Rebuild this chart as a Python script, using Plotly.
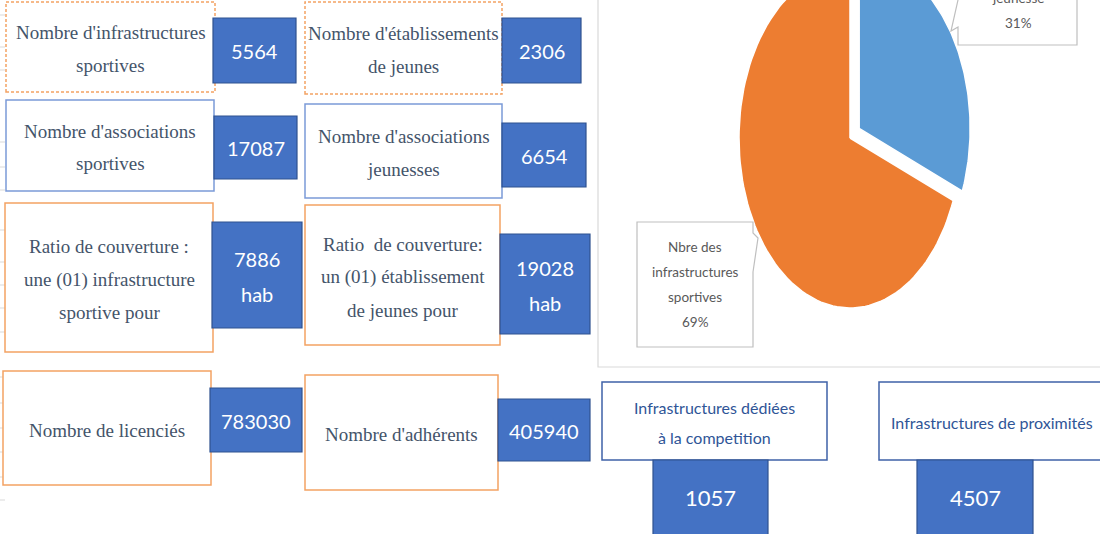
import numpy as np
import plotly.graph_objects as go

W, H = 1100, 534

# ---------------- data ----------------
stat_labels = [
    "Nombre d'infrastructures<br>sportives",
    "Nombre d'associations<br>sportives",
    "Ratio de couverture :<br>une (01) infrastructure<br>sportive pour",
    "Nombre de licenciés",
    "Nombre d'établissements<br>de jeunes",
    "Nombre d'associations<br>jeunesses",
    "Ratio  de couverture:<br>un (01) établissement<br>de jeunes pour",
    "Nombre d'adhérents",
]
stat_values = [5564, 17087, 7886, 783030, 2306, 6654, 19028, 405940]
stat_units = ["", "", "hab", "", "", "", "hab", ""]

pie_labels = ["Nbre des établissements de jeunesse", "Nbre des infrastructures sportives"]
pie_shares = [31, 69]

infra_labels = ["Infrastructures dédiées<br>à la competition", "Infrastructures de proximités"]
infra_values = [1057, 4507]

# ---------------- layout (pixel positions / styles) ----------------
ORANGE_B = "#F3A263"
BLUE_B = "#7B9AD8"
label_boxes = [
    (6, 2, 215, 92, ORANGE_B, "3px,2px"),
    (6, 100, 214, 191, BLUE_B, "solid"),
    (5, 203, 213, 352, ORANGE_B, "solid"),
    (3, 371, 211, 485, ORANGE_B, "solid"),
    (305, 2, 502, 94, ORANGE_B, "3px,2px"),
    (305, 104, 502, 198, BLUE_B, "solid"),
    (305, 205, 500, 345, ORANGE_B, "solid"),
    (305, 375, 498, 490, ORANGE_B, "solid"),
]
value_boxes = [
    (213, 18, 296, 83), (214, 116, 297, 179), (212, 222, 302, 328), (210, 388, 302, 452),
    (502, 18, 581, 83), (502, 123, 586, 187), (500, 234, 590, 334), (498, 399, 590, 461),
]
infra_label_boxes = [(602, 382, 827, 460), (879, 382, 1110, 460)]
infra_value_boxes = [(653, 460, 768, 540), (917, 460, 1033, 540)]

LBL_COLOR = "#44546A"
VAL_FILL = "#4472C4"
VAL_LINE = "#2F528F"
SERIF = "Liberation Serif, Times New Roman, serif"
SANS = "Lato, Liberation Sans, sans-serif"


def fx(x):
    return x / W


def fy(y):
    return 1 - y / H


shapes = []
annotations = []


def rect(x0, y0, x1, y1, line_color, width=1.2, dash="solid", fill="rgba(0,0,0,0)"):
    shapes.append(dict(type="rect", xref="paper", yref="paper",
                       x0=fx(x0), x1=fx(x1), y0=fy(y1), y1=fy(y0),
                       line=dict(color=line_color, width=width, dash=dash),
                       fillcolor=fill, layer="above"))


def text(x, y, s, size, color, family, yanchor="middle"):
    annotations.append(dict(xref="paper", yref="paper", x=fx(x), y=fy(y), text=s,
                            showarrow=False, xanchor="center", yanchor=yanchor,
                            font=dict(size=size, color=color, family=family)))


def multiline(cx, cy, s, spacing, size, color, family):
    lines = s.split("<br>")
    n = len(lines)
    for i, ln in enumerate(lines):
        text(cx, cy + (i - (n - 1) / 2) * spacing, ln, size, color, family)


# faint spreadsheet gridline stubs at left edge
for gy in [15, 47, 70, 142, 167, 190, 230, 262, 285, 308, 332, 377, 403, 428, 452, 477, 500]:
    shapes.append(dict(type="line", xref="paper", yref="paper", x0=fx(0), x1=fx(5),
                       y0=fy(gy), y1=fy(gy), line=dict(color="#D9D9D9", width=1)))

# pie panel frame
shapes.append(dict(type="path", xref="paper", yref="paper",
                   path=f"M {fx(598)},{fy(-5)} L {fx(598)},{fy(367)} L {fx(1105)},{fy(367)}",
                   line=dict(color="#D9D9D9", width=1.2)))

# stat label boxes + text
for (x0, y0, x1, y1, col, dash), lab in zip(label_boxes, stat_labels):
    rect(x0, y0, x1, y1, col, width=1.5, dash=dash, fill="white")
    multiline((x0 + x1) / 2, (y0 + y1) / 2 + 2, lab, 33, 19, LBL_COLOR, SERIF)

# value boxes
for (x0, y0, x1, y1), v, u in zip(value_boxes, stat_values, stat_units):
    rect(x0, y0, x1, y1, VAL_LINE, width=1.2, fill=VAL_FILL)
    s = f"{v}" + (f"<br>{u}" if u else "")
    multiline((x0 + x1) / 2, (y0 + y1) / 2 + 1, s, 35, 20, "white", SANS)

# infrastructure breakdown boxes
for (x0, y0, x1, y1), lab in zip(infra_label_boxes, infra_labels):
    rect(x0, y0, x1, y1, "#3F62A8", width=1.5, fill="white")
    multiline((x0 + x1) / 2 if x1 < 1100 else 992, (y0 + y1) / 2 + 1, lab, 30, 16, "#2F5597", SANS)
for (x0, y0, x1, y1), v in zip(infra_value_boxes, infra_values):
    rect(x0, y0, x1, y1, VAL_LINE, width=1.2, fill=VAL_FILL)
    text((x0 + x1) / 2, 498, f"{v}", 22, "white", SANS)

# ---------------- pie (elliptical, drawn on its own axes) ----------------
CX, CY, RX, RY = 850, 138, 111, 170
px0, px1 = 660, 1045
dom_y0 = 0.40
x2_range = [(px0 - CX) / RX, (px1 - CX) / RX]
y2_range = [(CY - H * (1 - dom_y0)) / RY, CY / RY]

fig = go.Figure()
total = sum(pie_shares)
colors = ["#5B9BD5", "#ED7D31"]
explode = [0.1, 0.0]
start = 0.0
for share, col, ex, name in zip(pie_shares, colors, explode, pie_labels):
    a0 = start
    a1 = start + share / total * 2 * np.pi
    mid = (a0 + a1) / 2
    ox, oy = ex * np.sin(mid), ex * np.cos(mid)
    th = np.linspace(a0, a1, 120)
    xs = np.concatenate([[ox], ox + np.sin(th), [ox]])
    ys = np.concatenate([[oy], oy + np.cos(th), [oy]])
    fig.add_trace(go.Scatter(x=xs, y=ys, fill="toself", fillcolor=col, mode="lines",
                             line=dict(color="white", width=1.5), name=name,
                             hoverinfo="skip", showlegend=False, xaxis="x2", yaxis="y2"))
    start = a1

# pie data-label callouts
shapes.append(dict(type="path", xref="paper", yref="paper",
                   path=(f"M {fx(637)},{fy(222)} L {fx(753)},{fy(222)} L {fx(753)},{fy(233)} "
                         f"L {fx(758)},{fy(238)} L {fx(753)},{fy(272)} L {fx(753)},{fy(347)} "
                         f"L {fx(637)},{fy(347)} Z"),
                   line=dict(color="#BFBFBF", width=1.2), fillcolor="white"))
shapes.append(dict(type="path", xref="paper", yref="paper",
                   path=(f"M {fx(1077)},{fy(-10)} L {fx(1077)},{fy(45)} L {fx(958)},{fy(45)} "
                         f"L {fx(958)},{fy(27)} L {fx(951)},{fy(31)} L {fx(958)},{fy(0)} L {fx(958)},{fy(-10)}"),
                   line=dict(color="#BFBFBF", width=1.2), fillcolor="white"))

orange_lbl = "Nbre des<br>infrastructures<br>sportives<br>" + f"{pie_shares[1]}%"
multiline(695, 284.5, orange_lbl, 25, 13.5, "#595959", SANS)
# only the bottom of the blue slice's label is visible (top cropped in the reference)
blue_lbl = "jeunesse<br>" + f"{pie_shares[0]}%"
multiline(1018, 23 - 0.5 * 25, blue_lbl, 25, 13.5, "#595959", SANS)

fig.update_layout(
    width=W, height=H,
    margin=dict(l=0, r=0, t=0, b=0),
    paper_bgcolor="white", plot_bgcolor="white",
    xaxis=dict(visible=False, range=[0, 1]),
    yaxis=dict(visible=False, range=[0, 1]),
    xaxis2=dict(visible=False, domain=[px0 / W, px1 / W], range=x2_range, anchor="y2"),
    yaxis2=dict(visible=False, domain=[dom_y0, 1], range=y2_range, anchor="x2"),
    shapes=shapes,
    annotations=annotations,
    showlegend=False,
)

fig.write_html("out.html", config={"displayModeBar": False},
               post_script="document.body.style.margin='0';")
